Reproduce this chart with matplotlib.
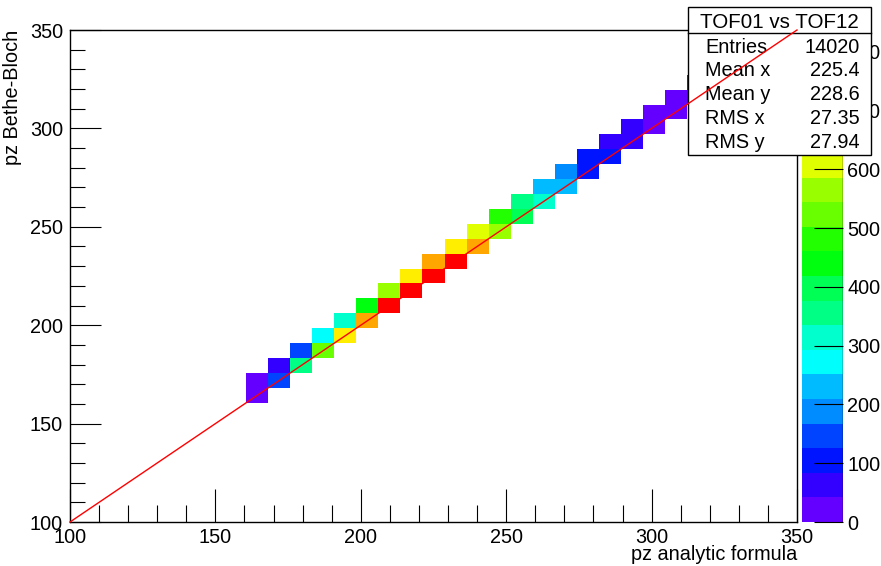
import colorsys

import numpy as np
import matplotlib
matplotlib.use("Agg")
import matplotlib.pyplot as plt
from matplotlib.colors import ListedColormap, BoundaryNorm
from matplotlib.patches import Rectangle
from matplotlib.ticker import MultipleLocator

plt.rcParams['font.family'] = ['Liberation Sans', 'DejaVu Sans']

# histogram binning (same on both axes)
n_bins = 33
lo, hi = 100.0, 350.0

# filled cells: column (x bin), row (y bin), bin content
cols = [8, 8, 9, 9, 10, 10, 11, 11, 12, 12, 13, 13, 14, 14, 15, 15, 16, 16,
        17, 17, 18, 18, 19, 19, 20, 20, 21, 21, 22, 22, 23, 23, 24, 24,
        25, 25, 26, 26, 27, 27, 28, 28]
rows = [8, 9, 9, 10, 10, 11, 11, 12, 12, 13, 13, 14, 14, 15, 15, 16, 16, 17,
        17, 18, 18, 19, 19, 20, 20, 21, 21, 22, 22, 23, 23, 24, 24, 25,
        25, 26, 26, 27, 27, 28, 28, 29]
counts = [30, 35, 140, 65, 345, 145, 510, 260, 640, 300, 690, 430, 810, 555,
          830, 640, 837, 690, 815, 640, 685, 595, 560, 470, 385, 343, 305, 220,
          225, 175, 100, 100, 95, 75, 70, 70, 38, 32, 25, 20, 15, 10]

stats_title = "TOF01 vs TOF12"
stats_names = ["Entries", "Mean x", "Mean y", "RMS x", "RMS y"]
stats_values = ["%d" % sum(counts), "225.4", "228.6", "27.35", "27.94"]

# 20 contour levels on the old ROOT "pretty" palette (violet -> red)
n_levels = 20
pretty = [colorsys.hls_to_rgb((280 - (i + 1) * 5.6) / 360.0, 0.5, 1.0)
          for i in range(50)]
level_colors = [pretty[int((j + 0.99) * 50 / n_levels)] for j in range(n_levels)]
cmap = ListedColormap(level_colors)
cmap.set_bad((1, 1, 1, 0))

edges = np.linspace(lo, hi, n_bins + 1)
H = np.zeros((n_bins, n_bins))
for c, r, v in zip(cols, rows, counts):
    H[r, c] = v
H = np.ma.masked_equal(H, 0)
zmax = max(counts)
norm = BoundaryNorm(np.linspace(0, zmax, n_levels + 1), n_levels)

W, Hpx = 881, 566
fig = plt.figure(figsize=(W / 100, Hpx / 100), dpi=100)


def fbox(x0, y0, x1, y1):
    # pixel box (top-left origin) -> figure fraction rect
    return [x0 / W, 1 - y1 / Hpx, (x1 - x0) / W, (y1 - y0) / Hpx]


ax = fig.add_axes(fbox(70, 30, 797, 522))
cax = fig.add_axes(fbox(802, 30, 843, 522))
ax.set_zorder(2)
cax.set_zorder(1)

fs = 14.3
mesh = ax.pcolormesh(edges, edges, H, cmap=cmap, norm=norm, zorder=1)
ax.plot([lo, hi], [lo, hi], color='red', lw=1.0, zorder=20, clip_on=False)

ax.set_xlim(lo, hi)
ax.set_ylim(lo, hi)
ax.xaxis.set_major_locator(MultipleLocator(50))
ax.xaxis.set_minor_locator(MultipleLocator(10))
ax.yaxis.set_major_locator(MultipleLocator(50))
ax.yaxis.set_minor_locator(MultipleLocator(10))
ax.tick_params(which='both', direction='in', top=False, right=False,
               labelsize=fs, width=0.8, color='black')
ax.tick_params(axis='x', which='major', length=24, pad=4)
ax.tick_params(axis='x', which='minor', length=12)
ax.tick_params(axis='y', which='major', length=22, pad=5)
ax.tick_params(axis='y', which='minor', length=11)
for s in ax.spines.values():
    s.set_linewidth(1.0)

ax.set_xlabel("pz analytic formula", fontsize=fs, ha='right', va='top')
ax.xaxis.set_label_coords(1.0, -23.5 / 492)
ax.set_ylabel("pz Bethe-Bloch", fontsize=fs, loc='top', labelpad=6)

cb = fig.colorbar(mesh, cax=cax, ticks=np.arange(0, 900, 100))
cb.outline.set_visible(False)
cax.axvline(1, color='black', lw=1.0)
cax.yaxis.set_ticks_position('right')
cax.tick_params(direction='in', length=21, width=0.8, labelsize=fs, pad=3)
cax.minorticks_off()
cax.set_ylim(0, zmax)

# statistics box, drawn over the palette axis
bx0, by0, bx1, by1 = 688, 7, 871, 155
ax.add_patch(Rectangle((bx0 / W, 1 - by1 / Hpx), (bx1 - bx0) / W, (by1 - by0) / Hpx,
                       transform=fig.transFigure, facecolor='white',
                       edgecolor='black', lw=1.0, clip_on=False, zorder=15))
ax.plot([bx0 / W, bx1 / W], [1 - 32.5 / Hpx, 1 - 32.5 / Hpx], color='black',
        lw=1.0, transform=fig.transFigure, clip_on=False, zorder=16)
ax.text((bx0 + bx1) / 2 / W, 1 - 27.5 / Hpx, stats_title, fontsize=14.8,
        ha='center', va='baseline', transform=fig.transFigure, zorder=17)
for i, (name, val) in enumerate(zip(stats_names, stats_values)):
    yb = 1 - (52.7 + i * 23.7) / Hpx
    ax.text(705 / W, yb, name, fontsize=fs, ha='left', va='baseline',
            transform=fig.transFigure, zorder=17)
    ax.text(860 / W, yb, val, fontsize=fs, ha='right', va='baseline',
            transform=fig.transFigure, zorder=17)

fig.savefig("out.png", dpi=100)
